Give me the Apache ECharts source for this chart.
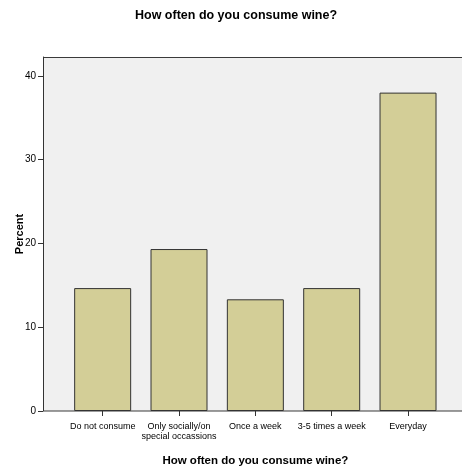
<!DOCTYPE html>
<html>
<head>
<meta charset="utf-8">
<script src="https://cdn.jsdelivr.net/npm/echarts@6/dist/echarts.min.js"></script>
<style>
html,body{margin:0;padding:0;background:#fff;}
#chart{width:462px;height:475px;}
</style>
</head>
<body>
<div id="chart"></div>
<script>
var categories = ['Do not consume', 'Only socially/on\nspecial occassions', 'Once a week', '3-5 times a week', 'Everyday'];
var percentValues = [14.67, 19.33, 13.33, 14.67, 38.0];
var yTickValues = [0, 10, 20, 30, 40];

var narrow = '"Liberation Sans Narrow", "Arial Narrow", "Liberation Sans", Arial, sans-serif';
var chart = echarts.init(document.getElementById('chart'), null, {renderer: 'canvas'});
chart.setOption({
  animation: false,
  backgroundColor: '#ffffff',
  title: {
    text: 'How often do you consume wine?',
    left: 135,
    top: 9,
    padding: 0,
    textStyle: {fontFamily: narrow, fontWeight: 'bold', fontSize: 12.5, color: '#000'}
  },
  graphic: [{
    type: 'rect',
    z: -10,
    silent: true,
    shape: {x: 43.5, y: 57.5, width: 430, height: 353.5},
    style: {fill: '#f0f0f0', stroke: '#3a3a3a', lineWidth: 1}
  }],
  grid: {left: 64.5, right: 15.8, top: 57, bottom: 64, containLabel: false, outerBoundsMode: 'none'},
  xAxis: {
    type: 'category',
    data: categories,
    name: 'How often do you consume wine?',
    nameLocation: 'middle',
    nameGap: 44,
    nameMoveOverlap: false,
    nameTextStyle: {fontFamily: narrow, fontWeight: 'bold', fontSize: 11.5, color: '#000'},
    axisLine: {show: false},
    axisTick: {show: true, alignWithLabel: true, length: 5, lineStyle: {color: '#333'}},
    axisLabel: {fontFamily: narrow, fontSize: 9, color: '#000', margin: 11, lineHeight: 10, interval: 0, hideOverlap: false}
  },
  yAxis: {
    type: 'value',
    min: 0,
    max: 42.25,
    offset: 21.5,
    name: 'Percent',
    nameLocation: 'middle',
    nameGap: 18,
    nameMoveOverlap: false,
    nameTextStyle: {fontFamily: '"Liberation Sans", Arial, sans-serif', fontWeight: 'bold', fontSize: 11, color: '#000'},
    axisLine: {show: true, lineStyle: {color: '#333'}},
    axisTick: {show: true, length: 5, customValues: yTickValues, lineStyle: {color: '#333'}},
    axisLabel: {customValues: yTickValues, fontFamily: narrow, fontSize: 10, color: '#000', margin: 7},
    splitLine: {show: false}
  },
  series: [{
    type: 'bar',
    data: percentValues,
    barWidth: 57,
    itemStyle: {color: '#d3ce97', borderColor: '#333', borderWidth: 1}
  }]
});
</script>
</body>
</html>
